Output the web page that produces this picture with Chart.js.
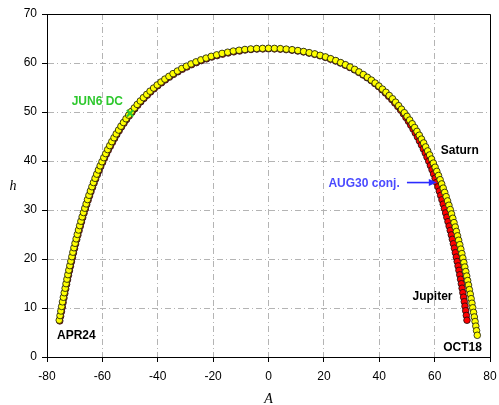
<!DOCTYPE html>
<html>
<head>
<meta charset="utf-8">
<script src="https://cdn.jsdelivr.net/npm/chart.js@4/dist/chart.umd.min.js"></script>
<style>
  html, body { margin: 0; padding: 0; background: #fff; }
  #wrap { width: 499px; height: 405px; position: relative; }
</style>
</head>
<body>
<div id="wrap"><canvas id="chart"></canvas></div>
<script>
// Saturn track, one point per evening, APR24 .. OCT18 (azimuth A, altitude h)
const satA = [
  -75.58, -75.29, -75.00, -74.70, -74.40, -74.09, -73.77, -73.45, -73.13, -72.80,
  -72.46, -72.11, -71.75, -71.39, -71.02, -70.65, -70.27, -69.88, -69.47, -69.06,
  -68.63, -68.20, -67.76, -67.31, -66.84, -66.36, -65.87, -65.37, -64.85, -64.33,
  -63.78, -63.22, -62.64, -62.05, -61.43, -60.81, -60.15, -59.49, -58.79, -58.09,
  -57.34, -56.59, -55.80, -55.00, -54.15, -53.30, -52.39, -51.47, -50.50, -49.52,
  -48.48, -47.43, -46.31, -45.18, -43.98, -42.78, -41.49, -40.20, -38.82, -37.43,
  -35.96, -34.48, -32.90, -31.32, -29.65, -27.97, -26.20, -24.42, -22.55, -20.68,
  -18.73, -16.77, -14.75, -12.72, -10.63, -8.54, -6.42, -4.29, -2.15, 0.00,
  2.14, 4.28, 6.41, 8.53, 10.61, 12.68, 14.70, 16.71, 18.65, 20.59,
  22.44, 24.29, 26.05, 27.80, 29.46, 31.12, 32.68, 34.24, 35.70, 37.15,
  38.52, 39.88, 41.15, 42.42, 43.61, 44.80, 45.91, 47.01, 48.04, 49.07,
  50.04, 51.00, 51.90, 52.79, 53.63, 54.47, 55.26, 56.04, 56.77, 57.50,
  58.20, 58.89, 59.54, 60.18, 60.79, 61.40, 61.98, 62.55, 63.10, 63.64,
  64.16, 64.67, 65.16, 65.64, 66.10, 66.56, 67.00, 67.44, 67.86, 68.27,
  68.68, 69.08, 69.46, 69.83, 70.19, 70.55, 70.90, 71.25, 71.59, 71.92,
  72.24, 72.55, 72.87, 73.18, 73.48, 73.77, 74.06, 74.34, 74.61, 74.88,
  75.15, 75.41
];
const satH = [
  7.52, 8.46, 9.39, 10.32, 11.26, 12.19, 13.12, 14.04, 14.97, 15.89,
  16.81, 17.73, 18.65, 19.57, 20.48, 21.39, 22.30, 23.21, 24.12, 25.02,
  25.92, 26.81, 27.71, 28.60, 29.49, 30.37, 31.25, 32.13, 33.01, 33.88,
  34.75, 35.61, 36.47, 37.32, 38.17, 39.01, 39.85, 40.68, 41.51, 42.33,
  43.14, 43.95, 44.75, 45.54, 46.32, 47.10, 47.86, 48.62, 49.36, 50.10,
  50.82, 51.54, 52.24, 52.93, 53.59, 54.25, 54.89, 55.52, 56.12, 56.71,
  57.27, 57.83, 58.36, 58.88, 59.35, 59.81, 60.23, 60.64, 61.00, 61.36,
  61.66, 61.96, 62.20, 62.43, 62.60, 62.76, 62.86, 62.95, 62.98, 63.00,
  62.98, 62.93, 62.83, 62.71, 62.54, 62.35, 62.11, 61.86, 61.56, 61.24,
  60.88, 60.50, 60.08, 59.65, 59.18, 58.70, 58.18, 57.65, 57.08, 56.51,
  55.91, 55.30, 54.67, 54.03, 53.37, 52.70, 52.00, 51.29, 50.57, 49.85,
  49.11, 48.36, 47.60, 46.83, 46.05, 45.26, 44.47, 43.68, 42.87, 42.05,
  41.23, 40.40, 39.57, 38.73, 37.89, 37.04, 36.18, 35.32, 34.46, 33.59,
  32.72, 31.85, 30.97, 30.09, 29.20, 28.31, 27.42, 26.52, 25.63, 24.73,
  23.83, 22.92, 22.01, 21.10, 20.19, 19.28, 18.36, 17.44, 16.52, 15.60,
  14.68, 13.75, 12.83, 11.90, 10.97, 10.04, 9.11, 8.17, 7.24, 6.30,
  5.37, 4.43
];

// Jupiter track, same evenings
const jupA = [
  -75.38, -75.09, -74.80, -74.50, -74.20, -73.89, -73.57, -73.25, -72.93, -72.60,
  -72.26, -71.91, -71.55, -71.19, -70.82, -70.45, -70.07, -69.68, -69.27, -68.86,
  -68.43, -68.00, -67.56, -67.11, -66.64, -66.16, -65.67, -65.17, -64.65, -64.13,
  -63.58, -63.02, -62.44, -61.85, -61.23, -60.61, -59.95, -59.29, -58.59, -57.89,
  -57.14, -56.39, -55.60, -54.80, -53.95, -53.10, -52.19, -51.27, -50.30, -49.32,
  -48.28, -47.23, -46.11, -44.98, -43.78, -42.58, -41.29, -40.00, -38.62, -37.23,
  -35.76, -34.28, -32.70, -31.12, -29.45, -27.77, -26.00, -24.22, -22.35, -20.48,
  -18.53, -16.57, -14.55, -12.52, -10.43, -8.44, -6.32, -4.19, -2.05, 0.00,
  2.14, 4.27, 6.38, 8.49, 10.56, 12.63, 14.64, 16.65, 18.59, 20.52,
  22.37, 24.21, 25.96, 27.71, 29.37, 31.02, 32.58, 34.13, 35.59, 37.05,
  38.39, 39.72, 40.97, 42.22, 43.38, 44.54, 45.63, 46.71, 47.72, 48.72,
  49.63, 50.53, 51.37, 52.21, 53.00, 53.78, 54.51, 55.24, 55.93, 56.61,
  57.25, 57.89, 58.48, 59.07, 59.63, 60.18, 60.70, 61.21, 61.70, 62.18,
  62.65, 63.11, 63.55, 63.98, 64.41, 64.83, 65.24, 65.64, 66.03, 66.41,
  66.78, 67.14, 67.49, 67.84, 68.16, 68.47, 68.78, 69.08, 69.37, 69.66,
  69.93, 70.20, 70.46, 70.72, 70.97, 71.22, 71.46, 71.69
];
const jupH = [
  7.37, 8.31, 9.24, 10.17, 11.11, 12.04, 12.97, 13.89, 14.82, 15.74,
  16.66, 17.58, 18.50, 19.42, 20.33, 21.24, 22.15, 23.06, 23.97, 24.87,
  25.77, 26.66, 27.56, 28.45, 29.34, 30.22, 31.10, 31.98, 32.86, 33.73,
  34.60, 35.46, 36.32, 37.17, 38.02, 38.86, 39.70, 40.53, 41.36, 42.18,
  42.99, 43.80, 44.60, 45.39, 46.17, 46.95, 47.71, 48.47, 49.21, 49.95,
  50.67, 51.39, 52.09, 52.78, 53.44, 54.10, 54.74, 55.37, 55.97, 56.56,
  57.12, 57.68, 58.21, 58.73, 59.20, 59.66, 60.08, 60.49, 60.85, 61.21,
  61.51, 61.81, 62.05, 62.28, 62.45, 62.66, 62.76, 62.85, 62.88, 62.90,
  62.88, 62.83, 62.73, 62.62, 62.45, 62.26, 62.02, 61.77, 61.47, 61.15,
  60.79, 60.41, 60.00, 59.56, 59.09, 58.61, 58.09, 57.57, 57.00, 56.43,
  55.82, 55.20, 54.55, 53.89, 53.21, 52.53, 51.83, 51.12, 50.39, 49.65,
  48.88, 48.11, 47.32, 46.53, 45.73, 44.92, 44.10, 43.28, 42.45, 41.62,
  40.78, 39.93, 39.07, 38.21, 37.35, 36.48, 35.61, 34.73, 33.85, 32.97,
  32.08, 31.19, 30.30, 29.40, 28.51, 27.62, 26.72, 25.82, 24.92, 24.02,
  23.11, 22.20, 21.29, 20.38, 19.48, 18.58, 17.68, 16.77, 15.86, 14.95,
  14.04, 13.12, 12.21, 11.29, 10.37, 9.45, 8.48, 7.50
];

// JUN6 marker
const dcA = [-50.0];
const dcH = [49.75];

const xTicks = [-80, -60, -40, -20, 0, 20, 40, 60, 80];
const yTicks = [0, 10, 20, 30, 40, 50, 60, 70];

// text notes, anchored in data units
const notes = [
  { text: 'JUN6 DC', x: -71.1, y: 52.2, color: '#2ec82e', align: 'left' },
  { text: 'Saturn', x: 62.2, y: 42.2, color: '#000', align: 'left' },
  { text: 'AUG30 conj.', x: 47.4, y: 35.4, color: '#4a4aff', align: 'right' },
  { text: 'Jupiter', x: 52.0, y: 12.3, color: '#000', align: 'left' },
  { text: 'APR24', x: -76.4, y: 4.3, color: '#000', align: 'left' },
  { text: 'OCT18', x: 63.1, y: 2.0, color: '#000', align: 'left' }
];
const arrow = { from: 50.0, to: 60.8, at: 35.6 };

const toPoints = (xs, ys) => xs.map((v, i) => ({ x: v, y: ys[i] }));

const frame = {
  id: 'frame',
  beforeDatasetsDraw(chart) {
    const { ctx, chartArea: a } = chart;
    const l = Math.round(a.left - 0.5) + 0.5;
    const r = Math.round(a.right - 0.5) + 0.5;
    const t = Math.round(a.top - 0.5) + 0.5;
    const b = Math.round(a.bottom - 0.5) + 0.5;
    ctx.save();
    ctx.strokeStyle = '#000';
    ctx.lineWidth = 1;
    ctx.beginPath();
    ctx.moveTo(l, t); ctx.lineTo(r, t); ctx.lineTo(r, b);
    ctx.stroke();
    ctx.restore();
  },
  afterDatasetsDraw(chart) {
    const { ctx, scales: { x, y } } = chart;
    ctx.save();
    // arrow to the conjunction
    const x0 = x.getPixelForValue(arrow.from);
    const x1 = x.getPixelForValue(arrow.to);
    const ay = y.getPixelForValue(arrow.at);
    ctx.strokeStyle = '#2b2bff';
    ctx.fillStyle = '#2b2bff';
    ctx.lineWidth = 1.6;
    ctx.beginPath(); ctx.moveTo(x0, ay); ctx.lineTo(x1 - 6, ay); ctx.stroke();
    ctx.beginPath();
    ctx.moveTo(x1, ay); ctx.lineTo(x1 - 8, ay - 3.5); ctx.lineTo(x1 - 8, ay + 3.5);
    ctx.closePath(); ctx.fill();

    ctx.font = 'bold 12px "Liberation Sans", Arial, sans-serif';
    ctx.textBaseline = 'middle';
    notes.forEach(n => {
      ctx.fillStyle = n.color;
      ctx.textAlign = n.align;
      ctx.fillText(n.text, x.getPixelForValue(n.x), y.getPixelForValue(n.y));
    });
    ctx.restore();
  },
  afterDraw(chart) {
    const { ctx, chartArea: a } = chart;
    ctx.save();
    ctx.fillStyle = '#000';
    ctx.font = 'italic 14px "Liberation Serif", "Times New Roman", serif';
    ctx.textAlign = 'center';
    ctx.textBaseline = 'middle';
    ctx.fillText('h', a.left - 34, (a.top + a.bottom) / 2 + 1);
    ctx.fillText('A', (a.left + a.right) / 2, a.bottom + 42);
    ctx.restore();
  }
};

Chart.defaults.font.family = '"Liberation Sans", Arial, sans-serif';
Chart.defaults.font.size = 12;
Chart.defaults.color = '#000';

const gridOpts = {
  color: '#b4b4b4',
  lineWidth: 1,
  drawTicks: true,
  tickLength: 5,
  tickColor: '#000',
  tickWidth: 1
};
const borderOpts = { display: true, color: '#000', width: 1, dash: [6, 3, 1, 3] };

new Chart(document.getElementById('chart'), {
  type: 'scatter',
  data: {
    datasets: [
      {
        label: 'JUN6 DC',
        data: toPoints(dcA, dcH),
        pointStyle: 'crossRot',
        pointRadius: 4.5,
        borderColor: '#2ec82e',
        borderWidth: 2.2,
        showLine: false
      },
      {
        label: 'Saturn',
        data: toPoints(satA, satH),
        backgroundColor: '#ffff00',
        borderColor: '#111',
        borderWidth: 0.8,
        pointRadius: 3.3,
        showLine: false
      },
      {
        label: 'Jupiter',
        data: toPoints(jupA, jupH),
        backgroundColor: '#ff0000',
        borderColor: '#111',
        borderWidth: 0.8,
        pointRadius: 3.3,
        showLine: false
      }
    ]
  },
  options: {
    responsive: true,
    maintainAspectRatio: false,
    devicePixelRatio: 1,
    animation: false,
    layout: { padding: { top: 14, right: 9, left: 0, bottom: 0 } },
    plugins: { legend: { display: false }, tooltip: { enabled: false } },
    scales: {
      x: {
        type: 'linear',
        min: -80,
        max: 80,
        afterBuildTicks: s => { s.ticks = xTicks.map(v => ({ value: v })); },
        afterFit: s => { s.height = 48; s.paddingLeft = 0; s.paddingRight = 0; },
        ticks: { padding: 7, color: '#000', maxRotation: 0 },
        grid: gridOpts,
        border: borderOpts
      },
      y: {
        type: 'linear',
        min: 0,
        max: 70,
        afterBuildTicks: s => { s.ticks = yTicks.map(v => ({ value: v })); },
        afterFit: s => { s.width = 47; s.paddingTop = 0; s.paddingBottom = 0; },
        ticks: { padding: 5, color: '#000' },
        grid: gridOpts,
        border: borderOpts
      }
    }
  },
  plugins: [frame]
});
</script>
</body>
</html>
